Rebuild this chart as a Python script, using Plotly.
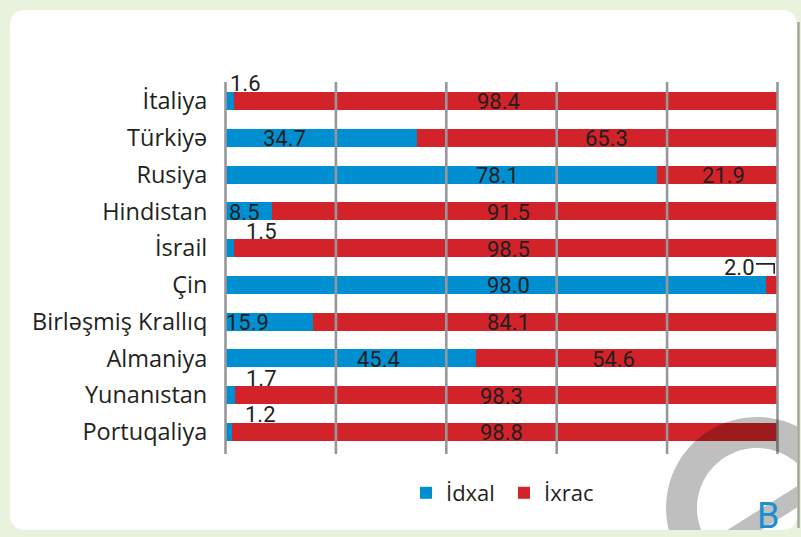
import numpy as np
import plotly.graph_objects as go

# ---------------- data ----------------
countries = ["İtaliya", "Türkiyə", "Rusiya", "Hindistan", "İsrail", "Çin",
             "Birləşmiş Krallıq", "Almaniya", "Yunanıstan", "Portuqaliya"]
idxal = [1.6, 34.7, 78.1, 8.5, 1.5, 98.0, 15.9, 45.4, 1.7, 1.2]
ixrac = [98.4, 65.3, 21.9, 91.5, 98.5, 2.0, 84.1, 54.6, 98.3, 98.8]
grid_vals = [0, 20, 40, 60, 80, 100]

# label placement (percent of the bar length) – layout only
idxal_label_x = [3.7, 10.6, 49.2, 3.4, 6.6, 51.2, 3.9, 27.8, 6.6, 6.4]
ixrac_label_x = [49.5, 69.1, 90.3, 51.2, 51.2, 93.2, 51.2, 70.2, 50.0, 50.0]

BLUE = "#008fd0"
RED = "#d2232a"
TXT = "#231f20"
GRID = "#97979b"
BG = "#e9f2dd"

W_FIG, H_FIG = 801, 537
L, R, T, B = 220, 783, 82, 454   # plot area in pixels


def PX(x):
    return (x - L) / (R - L)


def PY(y):
    return (B - y) / (B - T)


fig = go.Figure()
fig.add_trace(go.Bar(y=countries, x=idxal, name="İdxal", orientation="h",
                     marker=dict(color=BLUE, line=dict(width=0))))
fig.add_trace(go.Bar(y=countries, x=ixrac, name="İxrac", orientation="h",
                     marker=dict(color=RED, line=dict(width=0))))

shapes = []
# white rounded panel
x0, y0, x1, y1, r = 10, 10, 797, 530, 16
panel = (f"M {PX(x0+r)},{PY(y0)} L {PX(x1-r)},{PY(y0)} Q {PX(x1)},{PY(y0)} {PX(x1)},{PY(y0+r)} "
         f"L {PX(x1)},{PY(y1-r)} Q {PX(x1)},{PY(y1)} {PX(x1-r)},{PY(y1)} "
         f"L {PX(x0+r)},{PY(y1)} Q {PX(x0)},{PY(y1)} {PX(x0)},{PY(y1-r)} "
         f"L {PX(x0)},{PY(y0+r)} Q {PX(x0)},{PY(y0)} {PX(x0+r)},{PY(y0)} Z")
shapes.append(dict(type="path", path=panel, xref="paper", yref="paper",
                   fillcolor="white", line=dict(width=0), layer="below"))

# gridlines drawn on top of bars
for v in grid_vals:
    shapes.append(dict(type="line", xref="x", yref="paper", x0=v, x1=v, y0=0, y1=1,
                       line=dict(color=GRID, width=2.6), layer="above"))

# decorative ring (bottom right)
cx, cy, ro, ri = 757, 508, 91, 60
t = np.linspace(0, 2 * np.pi, 90)
outer = " ".join(f"{'M' if i == 0 else 'L'} {PX(cx+ro*np.cos(a))},{PY(cy+ro*np.sin(a))}" for i, a in enumerate(t)) + " Z"
inner = " ".join(f"{'M' if i == 0 else 'L'} {PX(cx+ri*np.cos(a))},{PY(cy-ri*np.sin(a))}" for i, a in enumerate(t)) + " Z"
shapes.append(dict(type="path", path=outer + " " + inner, xref="paper", yref="paper",
                   fillcolor="rgba(0,0,0,0.25)", line=dict(width=0), layer="above"))
# diagonal band
shapes.append(dict(type="line", xref="paper", yref="paper",
                   x0=PX(700), y0=PY(557.7), x1=PX(812), y1=PY(487.5),
                   line=dict(color="#bfbfbf", width=18), layer="above"))
# cover outside of the panel
shapes.append(dict(type="rect", xref="paper", yref="paper", x0=PX(797), x1=PX(860),
                   y0=PY(600), y1=PY(380), fillcolor=BG, line=dict(width=0), layer="above"))
shapes.append(dict(type="rect", xref="paper", yref="paper", x0=PX(600), x1=PX(860),
                   y0=PY(600), y1=PY(530), fillcolor=BG, line=dict(width=0), layer="above"))
shapes.append(dict(type="line", xref="paper", yref="paper", x0=PX(798.5), x1=PX(798.5),
                   y0=PY(22), y1=PY(528), line=dict(color="#a3a89e", width=2.5), layer="above"))

annotations = []
for i, c in enumerate(countries):
    for val, lx in ((idxal[i], idxal_label_x[i]), (ixrac[i], ixrac_label_x[i])):
        above = val < 5
        annotations.append(dict(x=lx, y=i, xref="x", yref="y", text=f"{val:.1f}",
                                showarrow=False, yshift=17 if above else -1,
                                font=dict(family="Roboto", size=22, color=TXT)))

# bracket for the small Çin export value
ci = countries.index("Çin")
bx0 = ixrac_label_x[ci] + 2.9
bx1 = idxal[ci] + ixrac[ci] * 0.7
shapes.append(dict(type="path", xref="x", yref="y",
                   path=f"M {bx0},{ci-0.57} L {bx1},{ci-0.57} L {bx1},{ci-0.3}",
                   line=dict(color=TXT, width=1.6), layer="above"))

annotations.append(dict(x=PX(768), y=PY(539), xref="paper", yref="paper", text="B",
                        showarrow=False, xanchor="center", yanchor="bottom",
                        font=dict(family="Roboto", size=36, color="#1a8fd0")))

fig.update_layout(
    width=W_FIG, height=H_FIG,
    margin=dict(l=L, r=W_FIG - R, t=T, b=H_FIG - B, pad=0),
    paper_bgcolor=BG, plot_bgcolor="rgba(0,0,0,0)",
    barmode="stack", bargap=0.51,
    xaxis=dict(range=[-1, 101], showgrid=False, zeroline=False, showticklabels=False,
               showline=False, fixedrange=True),
    yaxis=dict(range=[9.6, -0.516], showgrid=False, zeroline=False, showline=False,
               ticks="outside", ticklen=7, tickcolor="rgba(0,0,0,0)",
               tickfont=dict(family="Open Sans", size=23.5, color=TXT), fixedrange=True),
    showlegend=True,
    legend=dict(orientation="h", x=PX(406), xanchor="left", y=PY(472), yanchor="top",
                font=dict(family="Open Sans", size=22, color=TXT),
                bgcolor="rgba(0,0,0,0)", traceorder="normal", entrywidth=53),
    shapes=shapes, annotations=annotations,
)

fig.write_html("out.html", config={"displayModeBar": False},
               post_script="document.body.style.margin='0';document.body.style.background='%s';" % BG)
